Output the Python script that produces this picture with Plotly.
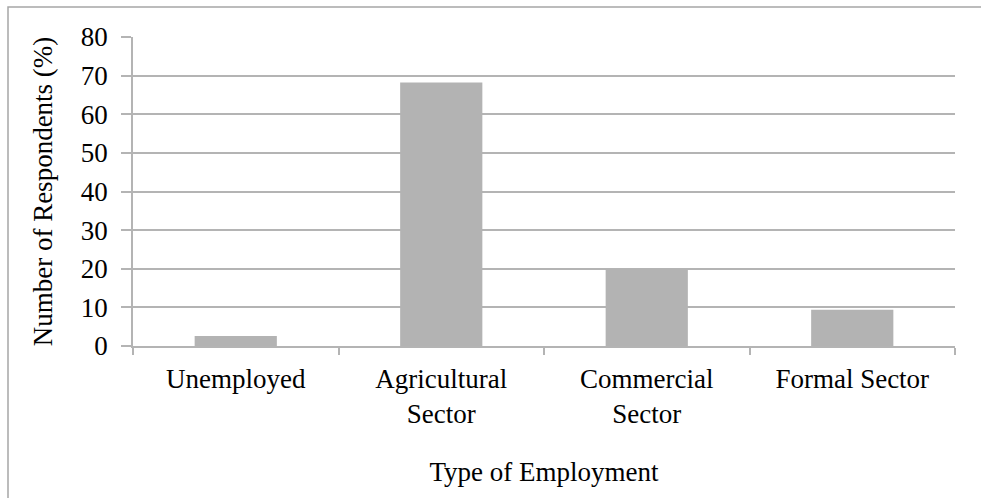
import plotly.graph_objects as go

# Employment type of survey respondents
categories = ["Unemployed", "Agricultural<br>Sector", "Commercial<br>Sector", "Formal Sector"]
percentages = [2.6, 68.2, 20.0, 9.4]
y_ticks = [0, 10, 20, 30, 40, 50, 60, 70, 80]

FONT = "Liberation Serif, Times New Roman, serif"
SIZE = 27
GRID = "#b4b4b4"
FRAME = "#a6a6a6"

fig = go.Figure(
    go.Bar(
        x=categories,
        y=percentages,
        marker=dict(color="#b3b3b3", line=dict(width=0)),
        width=0.4,
    )
)

fig.update_layout(
    width=981,
    height=498,
    margin=dict(l=133, r=26, t=37, b=152),
    paper_bgcolor="white",
    plot_bgcolor="white",
    font=dict(family=FONT, size=SIZE, color="black"),
    showlegend=False,
    bargap=0.6,
)

fig.update_xaxes(
    type="category",
    showline=True,
    linecolor=GRID,
    linewidth=1.5,
    ticks="outside",
    tickson="boundaries",
    ticklen=7,
    tickcolor=GRID,
    tickwidth=1.5,
    showgrid=False,
    ticklabelstandoff=8,
    tickfont=dict(family=FONT, size=SIZE),
    title=dict(text="Type of Employment", font=dict(family=FONT, size=SIZE), standoff=34),
)

fig.update_yaxes(
    range=[0, 80],
    tickvals=y_ticks,
    showline=True,
    linecolor=GRID,
    linewidth=1.5,
    ticks="outside",
    ticklen=10,
    tickcolor=GRID,
    tickwidth=1.5,
    showgrid=True,
    gridcolor=GRID,
    gridwidth=1.5,
    zeroline=False,
    ticklabelstandoff=8,
    tickfont=dict(family=FONT, size=SIZE),
    title=dict(text="Number of Respondents (%)", font=dict(family=FONT, size=SIZE), standoff=20),
)

# Chart frame: open path along the left and top edges (paper units)
frame_left = -125 / 822
frame_right = (981 - 133) / 822
frame_top = 1 + 30 / 309
frame_bottom = -(498 - 346) / 309
fig.add_shape(
    type="path",
    xref="paper", yref="paper",
    path=f"M {frame_left},{frame_bottom} L {frame_left},{frame_top} L {frame_right},{frame_top}",
    line=dict(color=FRAME, width=1.5),
    fillcolor="rgba(0,0,0,0)",
)

# Keep the page itself from scrolling
no_scroll = (
    "document.documentElement.style.overflow='hidden';"
    "document.body.style.overflow='hidden';"
    "document.body.style.margin='0';"
)

fig.write_html("out.html", config={"displayModeBar": False}, post_script=no_scroll)
